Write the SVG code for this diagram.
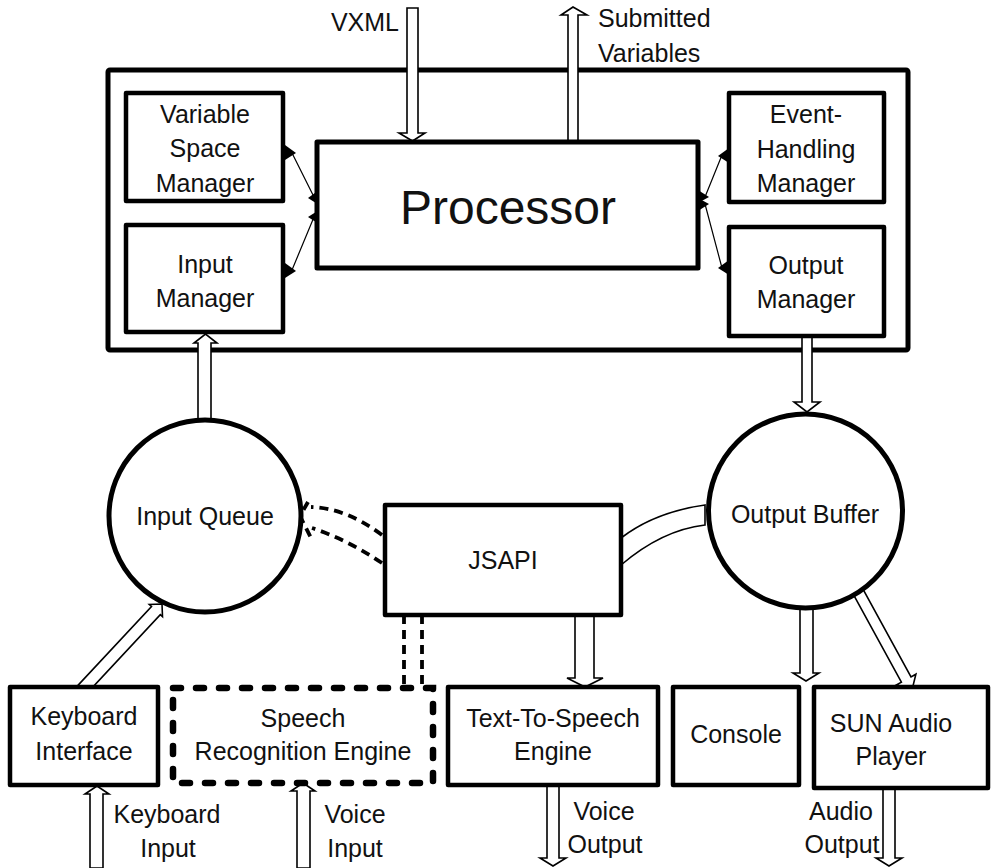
<svg xmlns="http://www.w3.org/2000/svg" width="992" height="868" viewBox="0 0 992 868">
<style>
.box{fill:#fff;stroke:#000;stroke-width:4.5;stroke-linejoin:round}
.circ{fill:#fff;stroke:#000;stroke-width:5}
.t{font-family:"Liberation Sans",Arial,sans-serif;font-size:25px;fill:#111;text-anchor:middle}
.s{text-anchor:start}
.e{text-anchor:end}
.ha{fill:#fff;stroke:#000;stroke-width:1.6;stroke-linejoin:miter}
.dash{fill:none;stroke:#000;stroke-width:3.8;stroke-dasharray:9 6}
.thin{fill:none;stroke:#000;stroke-width:1.2}
.head{fill:#000;stroke:none}
</style>
<rect width="992" height="868" fill="#fff"/>
<g id="engine">
<rect x="108" y="70" width="800" height="280" rx="2" fill="none" stroke="#000" stroke-width="5"/>
</g>
<g id="connectors">
<polygon class="ha" points="407,8 418,8 418,133 425,133 412.5,141 399,133 407,133"/>
<polygon class="ha" points="568,141 568,15 561,15 573,7 587,15 578,15 578,141"/>
<polygon class="ha" points="198,425 198,343 194,343 205.5,334 217,343 211,343 211,425"/>
<polygon class="ha" points="802,330 802,402 794,402 807,412 820,402 812,402 812,330"/>
<polygon class="ha" points="800,600 800,673 793,673 806,681 819,673 813,673 813,600"/>
<polygon class="ha" points="850.2,588.6 901.4,682.1 896.6,684.8 912,690 915.9,674.2 911,676.9 859.8,583.4"/>
<polygon class="ha" points="575,610 575,678 567,678 585,687 603,678 594,678 594,610"/>
<polygon class="ha" points="75.6,687.9 151.5,606.5 149.3,604.5 162,604 162.5,616.7 160.3,614.7 84.4,696.1"/>
<polygon class="ha" points="90,868 90,794 85,794 97,786 109,794 103,794 103,868"/>
<polygon class="ha" points="297,868 297,791 291,791 303,783 315,791 310,791 310,868"/>
<polygon class="ha" points="547,780 547,858 540,858 553,866 566,858 559,858 559,780"/>
<polygon class="ha" points="883,780 883,858 876,858 889,866 902,858 895,858 895,780"/>
<path class="ha" d="M621,538 Q655,512 705,505 L705,525 Q662,530 621,565"/>
<path class="dash" d="M382,535 Q346,508 311,507 M382,563 Q348,540 312,528 M308,502 L300,516 L311,538"/>
<path class="dash" d="M404,615 L404,688 M422,615 L422,688"/>
<path class="thin" d="M292,153 L314,197 M314,217 L292,270 M705,197 L722,155 M705,204 L722,268"/>
<polygon class="head" points="285,145 296,153 285,160"/>
<polygon class="head" points="319,190 308,198 319,205"/>
<polygon class="head" points="319,210 308,217 319,224"/>
<polygon class="head" points="285,263 296,271 285,278"/>
<polygon class="head" points="729,148 718,156 729,163"/>
<polygon class="head" points="698,190 709,197 698,203"/>
<polygon class="head" points="698,198 709,204 698,211"/>
<polygon class="head" points="729,260 718,268 729,275"/>
</g>
<g id="nodes">
<g id="processor"><rect class="box" x="317" y="142" width="381" height="126" style="stroke-width:5"/><text class="t" x="508" y="224" style="font-size:48px">Processor</text></g>
<g id="variable-space-manager"><rect class="box" x="126" y="93" width="157" height="108"/><text class="t" x="205" y="123">Variable</text><text class="t" x="205" y="157">Space</text><text class="t" x="205" y="192">Manager</text></g>
<g id="input-manager"><rect class="box" x="126" y="225" width="157" height="107"/><text class="t" x="205" y="273">Input</text><text class="t" x="205" y="307">Manager</text></g>
<g id="event-handling-manager"><rect class="box" x="729" y="93" width="155" height="109"/><text class="t" x="806" y="123">Event-</text><text class="t" x="806" y="158">Handling</text><text class="t" x="806" y="192">Manager</text></g>
<g id="output-manager"><rect class="box" x="729" y="227" width="155" height="109"/><text class="t" x="806" y="274">Output</text><text class="t" x="806" y="308">Manager</text></g>
<g id="input-queue"><circle class="circ" cx="205" cy="516" r="96"/><text class="t" x="205" y="525">Input Queue</text></g>
<g id="output-buffer"><circle class="circ" cx="805.5" cy="511" r="97"/><text class="t" x="805" y="523">Output Buffer</text></g>
<g id="jsapi"><rect class="box" x="385" y="505" width="236" height="110"/><text class="t" x="503" y="569">JSAPI</text></g>
<g id="keyboard-interface"><rect class="box" x="10" y="687" width="148" height="98"/><text class="t" x="84" y="725">Keyboard</text><text class="t" x="84" y="760">Interface</text></g>
<g id="speech-recognition-engine"><rect x="173" y="688" width="260" height="95" fill="#fff" stroke="#000" stroke-width="6.5" stroke-dasharray="8 15" stroke-linecap="round"/><text class="t" x="303" y="727">Speech</text><text class="t" x="303" y="760">Recognition Engine</text></g>
<g id="tts-engine"><rect class="box" x="448" y="687" width="210" height="98"/><text class="t" x="553" y="727">Text-To-Speech</text><text class="t" x="553" y="760">Engine</text></g>
<g id="console"><rect class="box" x="673" y="687" width="126" height="98"/><text class="t" x="736" y="743">Console</text></g>
<g id="sun-audio-player"><rect class="box" x="814" y="687" width="174" height="101"/><text class="t" x="891" y="732">SUN Audio</text><text class="t" x="891" y="765">Player</text></g>
</g>
<g id="labels">
<text class="t e" x="399" y="31">VXML</text>
<text class="t s" x="598" y="27">Submitted</text>
<text class="t s" x="598" y="62">Variables</text>
<text class="t" x="167" y="823">Keyboard</text>
<text class="t" x="168" y="857">Input</text>
<text class="t" x="355" y="823">Voice</text>
<text class="t" x="355" y="857">Input</text>
<text class="t" x="604" y="820">Voice</text>
<text class="t" x="605" y="853">Output</text>
<text class="t" x="841" y="820">Audio</text>
<text class="t" x="842" y="853">Output</text>
</g>
</svg>
